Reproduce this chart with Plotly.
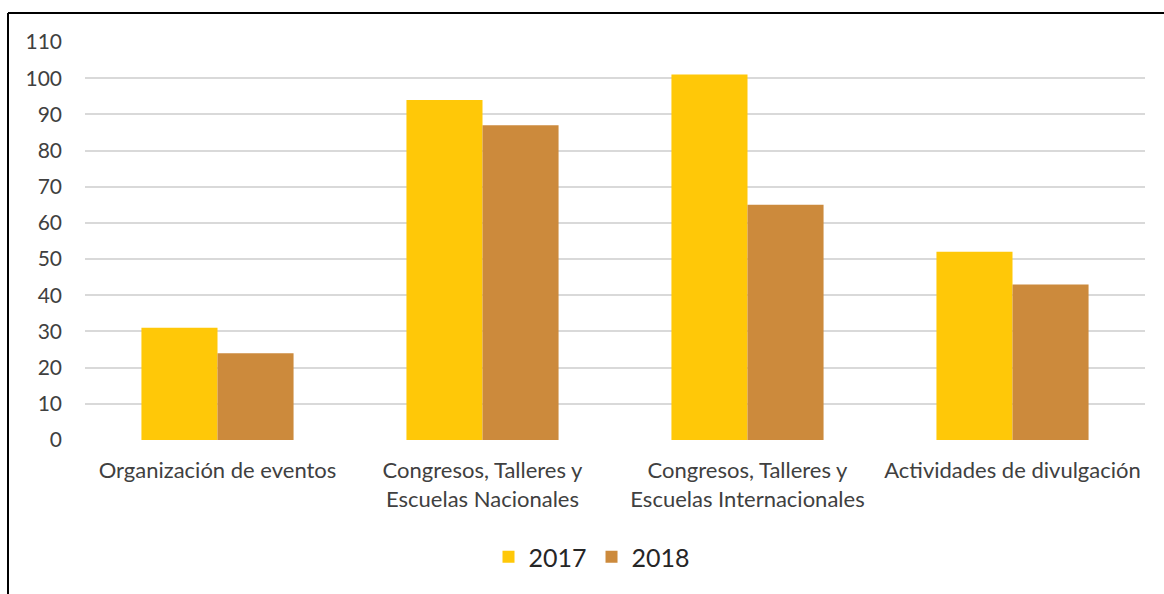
import plotly.graph_objects as go

categories = [
    "Organización de eventos",
    "Congresos, Talleres y<br>Escuelas Nacionales",
    "Congresos, Talleres y<br>Escuelas Internacionales",
    "Actividades de divulgación",
]
values_2017 = [31, 94, 101, 52]
values_2018 = [24, 87, 65, 43]
y_ticks = list(range(0, 111, 10))

W, H = 1164, 594
L, R, T, B = 85, 19, 42, 154
pw, ph = W - L - R, H - T - B

def px_x(x):
    return (x - L) / pw

def px_y(y):
    return (H - B - y) / ph

text_color = "#404040"
font_family = "Lato, 'Open Sans', sans-serif"

fig = go.Figure()
fig.add_trace(go.Bar(name="2017", x=categories, y=values_2017,
                     marker=dict(color="#FFC808", line=dict(width=0))))
fig.add_trace(go.Bar(name="2018", x=categories, y=values_2018,
                     marker=dict(color="#CC8A3C", line=dict(width=0))))

fig.update_layout(
    width=W, height=H,
    margin=dict(l=L, r=R, t=T, b=B, autoexpand=False),
    paper_bgcolor="white", plot_bgcolor="white",
    barmode="group", bargap=0.426, bargroupgap=0,
    font=dict(family=font_family, color=text_color, size=22),
    showlegend=True,
    legend=dict(orientation="h", x=px_x(592), xanchor="center",
                y=px_y(557), yanchor="middle",
                font=dict(size=25, color="#262626"),
                itemwidth=30, traceorder="normal"),
    xaxis=dict(showgrid=False, showline=False, zeroline=False,
               tickfont=dict(size=22, color=text_color),
               ticklabelstandoff=15),
    yaxis=dict(range=[0, 110], tickvals=y_ticks, showgrid=True,
               gridcolor="#d9d9d9", gridwidth=1.5, zeroline=False,
               showline=False, tickfont=dict(size=21, color=text_color),
               ticklabelstandoff=22),
    shapes=[
        dict(type="line", xref="paper", yref="paper",
             x0=px_x(8), x1=px_x(1164), y0=px_y(13), y1=px_y(13),
             line=dict(color="black", width=2)),
        dict(type="line", xref="paper", yref="paper",
             x0=px_x(8), x1=px_x(8), y0=px_y(13), y1=px_y(594),
             line=dict(color="black", width=2)),
    ],
)

fig.write_html("out.html")
